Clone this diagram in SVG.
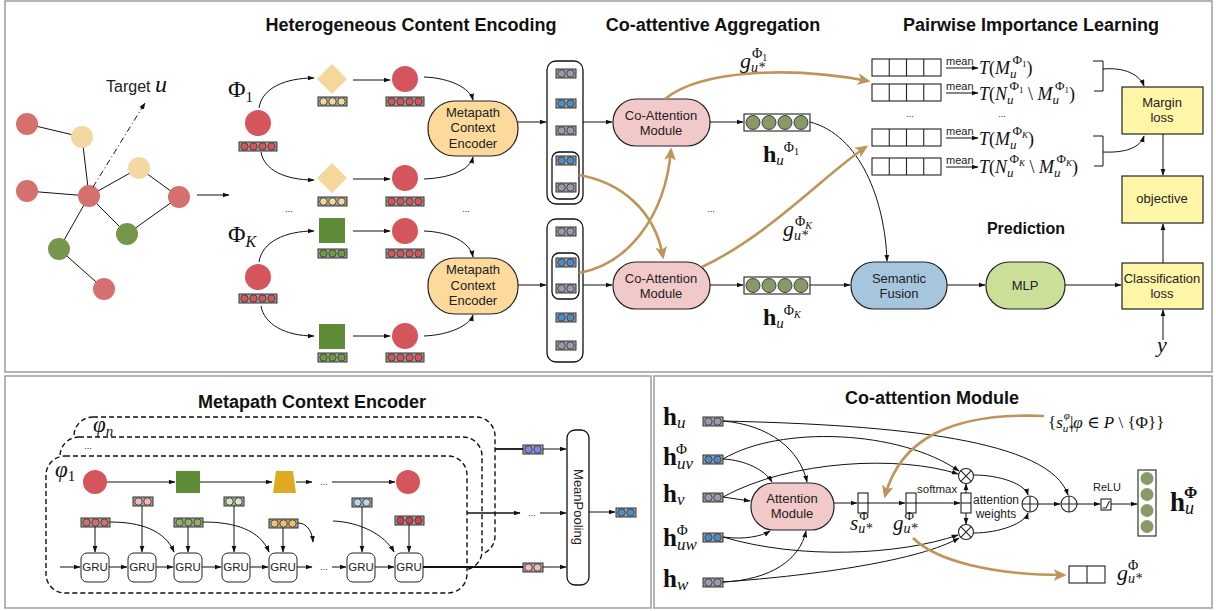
<svg xmlns="http://www.w3.org/2000/svg" width="1216" height="611" viewBox="0 0 1216 611">
<defs>
<style>
.ttl{font-family:"Liberation Sans",Arial,sans-serif;font-weight:bold;font-size:18px;fill:#111;text-anchor:middle}
.lbl{font-family:"Liberation Sans",Arial,sans-serif;font-size:13px;fill:#222;text-anchor:middle}
.sm{font-family:"Liberation Sans",Arial,sans-serif;fill:#222}
.m{font-family:"Liberation Serif","DejaVu Serif",serif;fill:#111}
.i{font-style:italic}
.b{font-weight:bold}
.ln{fill:none;stroke:#111;stroke-width:1}
.ar{fill:none;stroke:#111;stroke-width:1;marker-end:url(#ah)}
.br{fill:none;stroke:#BF9458;stroke-width:2.6;marker-end:url(#bh)}
.frame{fill:none;stroke:#a3a3a3;stroke-width:1.6}
.pill{stroke:#222;stroke-width:1.2}
.ybox{fill:#FFF6A8;stroke:#222;stroke-width:1.2}
.dash{fill:#fff;stroke:#111;stroke-width:1.4;stroke-dasharray:5 3}
.gru{fill:#fff;stroke:#222;stroke-width:1}
.dots{font-family:"Liberation Sans",Arial,sans-serif;font-size:9px;text-anchor:middle;fill:#222}
.cell{fill:#fff;stroke:#222;stroke-width:1.1}
</style>
<marker id="ah" viewBox="0 0 10 10" refX="9" refY="5" markerWidth="7" markerHeight="7" markerUnits="userSpaceOnUse" orient="auto"><path d="M0,1.5 L10,5 L0,8.5z" fill="#111"/></marker>
<marker id="bh" viewBox="0 0 10 10" refX="8" refY="5" markerWidth="13" markerHeight="13" markerUnits="userSpaceOnUse" orient="auto"><path d="M0,0.5 L10,5 L0,9.5 L2.5,5z" fill="#BF9458"/></marker>
<!-- embedding vectors: circles take their fill from the <use> -->
<g id="v4"><rect width="38" height="9" fill="#a0a0a0" stroke="#333" stroke-width="1"/><circle cx="5.5" cy="4.5" r="3.7" stroke="#333" stroke-width=".8"/><circle cx="14.5" cy="4.5" r="3.7" stroke="#333" stroke-width=".8"/><circle cx="23.5" cy="4.5" r="3.7" stroke="#333" stroke-width=".8"/><circle cx="32.5" cy="4.5" r="3.7" stroke="#333" stroke-width=".8"/></g>
<g id="v3"><rect width="29" height="9" fill="#a0a0a0" stroke="#333" stroke-width="1"/><circle cx="5.5" cy="4.5" r="3.7" stroke="#333" stroke-width=".8"/><circle cx="14.5" cy="4.5" r="3.7" stroke="#333" stroke-width=".8"/><circle cx="23.5" cy="4.5" r="3.7" stroke="#333" stroke-width=".8"/></g>
<g id="v2"><rect width="20" height="9" fill="#a0a0a0" stroke="#333" stroke-width="1"/><circle cx="5.5" cy="4.5" r="3.7" stroke="#333" stroke-width=".8"/><circle cx="14.5" cy="4.5" r="3.7" stroke="#333" stroke-width=".8"/></g>
<g id="olive"><rect width="66" height="17" fill="#fff" stroke="#222" stroke-width="1.1"/><circle cx="9" cy="8.5" r="7" fill="#8A9968" stroke="#333" stroke-width=".9"/><circle cx="25" cy="8.5" r="7" fill="#8A9968" stroke="#333" stroke-width=".9"/><circle cx="41" cy="8.5" r="7" fill="#8A9968" stroke="#333" stroke-width=".9"/><circle cx="57" cy="8.5" r="7" fill="#8A9968" stroke="#333" stroke-width=".9"/></g>
<g id="tbl4"><rect class="cell" width="69" height="17"/><path d="M17.25,0V17M34.5,0V17M51.75,0V17" stroke="#222" stroke-width="1.1"/></g>
</defs>

<rect width="1216" height="611" fill="#fff"/>
<!-- panel frames -->
<rect class="frame" x="5" y="1" width="1207" height="371"/>
<rect class="frame" x="5" y="376" width="646" height="232"/>
<rect class="frame" x="654" y="376" width="558" height="232"/>

<!-- section titles -->
<text class="ttl" x="411" y="31">Heterogeneous Content Encoding</text>
<text class="ttl" x="713" y="31">Co-attentive Aggregation</text>
<text class="ttl" x="1031" y="31">Pairwise Importance Learning</text>
<text class="ttl" x="1026" y="234" style="font-size:16px">Prediction</text>
<text class="ttl" x="312" y="408">Metapath Context Encoder</text>
<text class="ttl" x="932" y="404">Co-attention Module</text>

<!-- input heterogeneous graph -->
<g id="graph">
  <path class="ln" d="M27,124L82,137M82,137L89,196M27,191L89,196M89,196L139,168M139,168L179,197M179,197L127,234M127,234L89,196M89,196L59,249M59,249L104,289"/>
  <circle cx="27" cy="124" r="11" fill="#D4706E"/>
  <circle cx="82" cy="137" r="11" fill="#F4D8A4"/>
  <circle cx="27" cy="191" r="11" fill="#D4706E"/>
  <circle cx="89" cy="196" r="11" fill="#D4706E"/>
  <circle cx="139" cy="168" r="11" fill="#F4D8A4"/>
  <circle cx="179" cy="197" r="11" fill="#D4706E"/>
  <circle cx="127" cy="234" r="11" fill="#76964B"/>
  <circle cx="59" cy="249" r="11" fill="#76964B"/>
  <circle cx="104" cy="289" r="11" fill="#D4706E"/>
  <text x="106" y="92" class="sm" font-size="16">Target <tspan class="m i" font-size="24">u</tspan></text>
</g>

<!-- metapath Phi_1 instances -->
<g id="phi1">
  <text class="m" x="228" y="97" font-size="24">Φ<tspan font-size="15" dy="5">1</tspan></text>
  <circle cx="258" cy="123" r="13" fill="#D4555C"/>
  <use href="#v4" x="239" y="142" fill="#D4555C"/>
  <polygon points="332,64 347,79 332,94 317,79" fill="#F5D79A"/>
  <use href="#v3" x="318" y="97" fill="#F5D79A"/>
  <circle cx="405" cy="79" r="13" fill="#D4555C"/>
  <use href="#v4" x="386" y="97" fill="#D4555C"/>
  <polygon points="332,163 347,178 332,193 317,178" fill="#F5D79A"/>
  <use href="#v3" x="318" y="197" fill="#F5D79A"/>
  <circle cx="405" cy="178" r="13" fill="#D4555C"/>
  <use href="#v4" x="386" y="197" fill="#D4555C"/>
  <text class="dots" x="289" y="212">...</text>
  <text class="dots" x="466" y="212">...</text>
</g>
<g id="enc1">
  <rect class="pill" x="428" y="101" width="90" height="55" rx="27" fill="#FDD99B"/>
  <text class="lbl" x="473" y="117">Metapath</text>
  <text class="lbl" x="473" y="132">Context</text>
  <text class="lbl" x="473" y="148">Encoder</text>
</g>

<!-- metapath Phi_K instances -->
<g id="phiK">
  <text class="m" x="228" y="242" font-size="24">Φ<tspan class="i" font-size="16" dy="5">K</tspan></text>
  <circle cx="258" cy="277" r="13" fill="#D4555C"/>
  <use href="#v4" x="239" y="294" fill="#D4555C"/>
  <rect x="319" y="218" width="26" height="25" fill="#5E8B36"/>
  <use href="#v3" x="318" y="249" fill="#6E9A40"/>
  <circle cx="405" cy="231" r="13" fill="#D4555C"/>
  <use href="#v4" x="386" y="249" fill="#D4555C"/>
  <rect x="319" y="324" width="26" height="25" fill="#5E8B36"/>
  <use href="#v3" x="318" y="353" fill="#6E9A40"/>
  <circle cx="405" cy="336" r="13" fill="#D4555C"/>
  <use href="#v4" x="386" y="353" fill="#D4555C"/>
</g>
<g id="enc2">
  <rect class="pill" x="428" y="258" width="90" height="56" rx="27" fill="#FDD99B"/>
  <text class="lbl" x="473" y="274">Metapath</text>
  <text class="lbl" x="473" y="290">Context</text>
  <text class="lbl" x="473" y="305">Encoder</text>
</g>

<!-- instance embedding columns -->
<g id="col1">
  <rect x="547" y="61" width="36" height="143" rx="9" fill="#fff" stroke="#111" stroke-width="1.3"/>
  <use href="#v2" x="556" y="69" fill="#9C9AB2"/>
  <use href="#v2" x="556" y="99" fill="#4C8CC8"/>
  <use href="#v2" x="556" y="126" fill="#9C9AB2"/>
  <rect x="552" y="152" width="27" height="47" rx="7" fill="#fff" stroke="#111" stroke-width="1.3"/>
  <use href="#v2" x="556" y="156" fill="#4C8CC8"/>
  <use href="#v2" x="556" y="183" fill="#9C9AB2"/>
</g>
<g id="col2">
  <rect x="547" y="219" width="36" height="143" rx="9" fill="#fff" stroke="#111" stroke-width="1.3"/>
  <use href="#v2" x="556" y="227" fill="#9C9AB2"/>
  <rect x="552" y="253" width="27" height="46" rx="7" fill="#fff" stroke="#111" stroke-width="1.3"/>
  <use href="#v2" x="556" y="258" fill="#4C8CC8"/>
  <use href="#v2" x="556" y="284" fill="#9C9AB2"/>
  <use href="#v2" x="556" y="313" fill="#4C8CC8"/>
  <use href="#v2" x="556" y="341" fill="#9C9AB2"/>
</g>

<g id="coatt1">
  <rect class="pill" x="613" y="99" width="97" height="47" rx="23" fill="#F2C9C9"/>
  <text class="lbl" x="661" y="120">Co-Attention</text>
  <text class="lbl" x="661" y="135">Module</text>
</g>
<g id="coatt2">
  <rect class="pill" x="613" y="262" width="97" height="47" rx="23" fill="#F2C9C9"/>
  <text class="lbl" x="661" y="283">Co-Attention</text>
  <text class="lbl" x="661" y="298">Module</text>
</g>
<text class="dots" x="711" y="212">...</text>

<g id="hu1">
  <use href="#olive" x="744" y="114"/>
  <text class="m" x="763" y="162"><tspan class="b" font-size="24">h</tspan><tspan class="i" font-size="15" dy="3">u</tspan><tspan font-size="14" dy="-13">Φ</tspan><tspan font-size="10" dy="3">1</tspan></text>
</g>
<g id="huK">
  <use href="#olive" x="744" y="277"/>
  <text class="m" x="763" y="325"><tspan class="b" font-size="24">h</tspan><tspan class="i" font-size="15" dy="3">u</tspan><tspan font-size="14" dy="-13">Φ</tspan><tspan class="i" font-size="10" dy="3">K</tspan></text>
</g>
<text class="m" x="740" y="68"><tspan class="i" font-size="22">g</tspan><tspan class="i" font-size="14" dy="4">u*</tspan><tspan font-size="14" dx="-13" dy="-14">Φ</tspan><tspan font-size="10" dy="3">1</tspan></text>
<text class="m" x="783" y="236"><tspan class="i" font-size="22">g</tspan><tspan class="i" font-size="14" dy="4">u*</tspan><tspan font-size="14" dx="-13" dy="-14">Φ</tspan><tspan class="i" font-size="10" dy="3">K</tspan></text>

<!-- pairwise importance tables -->
<g id="tables">
  <use href="#tbl4" x="872" y="59"/>
  <use href="#tbl4" x="872" y="84"/>
  <use href="#tbl4" x="872" y="129"/>
  <use href="#tbl4" x="872" y="158"/>
  <text class="dots" x="910" y="117">...</text>
  <text class="dots" x="1002" y="117">...</text>
  <g class="sm" font-size="11">
    <text x="946" y="65">mean</text>
    <text x="946" y="90">mean</text>
    <text x="946" y="135">mean</text>
    <text x="946" y="164">mean</text>
  </g>
  <text class="m" x="979" y="74" font-size="18"><tspan class="i">T</tspan>(<tspan class="i">M</tspan><tspan class="i" font-size="13" dy="4">u</tspan><tspan font-size="13" dx="-4" dy="-14">Φ</tspan><tspan font-size="9" dy="3">1</tspan><tspan dy="7">)</tspan></text>
  <text class="m" x="979" y="100" font-size="18"><tspan class="i">T</tspan>(<tspan class="i">N</tspan><tspan class="i" font-size="13" dy="4">u</tspan><tspan font-size="13" dx="-4" dy="-14">Φ</tspan><tspan font-size="9" dy="3">1</tspan><tspan dy="7"> \ </tspan><tspan class="i">M</tspan><tspan class="i" font-size="13" dy="4">u</tspan><tspan font-size="13" dx="-4" dy="-14">Φ</tspan><tspan font-size="9" dy="3">1</tspan><tspan dy="7">)</tspan></text>
  <text class="m" x="979" y="145" font-size="18"><tspan class="i">T</tspan>(<tspan class="i">M</tspan><tspan class="i" font-size="13" dy="4">u</tspan><tspan font-size="13" dx="-4" dy="-14">Φ</tspan><tspan class="i" font-size="9" dy="3">K</tspan><tspan dy="7">)</tspan></text>
  <text class="m" x="979" y="173" font-size="18"><tspan class="i">T</tspan>(<tspan class="i">N</tspan><tspan class="i" font-size="13" dy="4">u</tspan><tspan font-size="13" dx="-4" dy="-14">Φ</tspan><tspan class="i" font-size="9" dy="3">K</tspan><tspan dy="7"> \ </tspan><tspan class="i">M</tspan><tspan class="i" font-size="13" dy="4">u</tspan><tspan font-size="13" dx="-4" dy="-14">Φ</tspan><tspan class="i" font-size="9" dy="3">K</tspan><tspan dy="7">)</tspan></text>
</g>

<g id="margin">
  <rect class="ybox" x="1122" y="87" width="81" height="47"/>
  <text class="lbl" x="1162" y="107">Margin</text>
  <text class="lbl" x="1162" y="122">loss</text>
</g>
<g id="objective">
  <rect class="ybox" x="1122" y="176" width="81" height="47"/>
  <text class="lbl" x="1162" y="203">objective</text>
</g>
<g id="clsloss">
  <rect class="ybox" x="1122" y="263" width="81" height="46"/>
  <text class="lbl" x="1162" y="283">Classification</text>
  <text class="lbl" x="1162" y="298">loss</text>
</g>
<g id="fusion">
  <rect class="pill" x="851" y="262" width="96" height="47" rx="23" fill="#A6C6DD"/>
  <text class="lbl" x="899" y="283">Semantic</text>
  <text class="lbl" x="899" y="298">Fusion</text>
</g>
<g id="mlp">
  <rect class="pill" x="986" y="262" width="79" height="47" rx="23" fill="#CBDF98"/>
  <text class="lbl" x="1025" y="290">MLP</text>
</g>
<text class="m i" x="1157" y="352" font-size="22">y</text>

<!-- connectors of the top panel -->
<g id="top-edges">
  <path d="M93,187L145,103" fill="none" stroke="#111" stroke-width="1" stroke-dasharray="6 3 1 3" marker-end="url(#ah)"/>
  <path class="ar" d="M197,195L229,195"/>
  <path class="ar" d="M259,108C262,88 285,78 314,78"/>
  <path class="ar" d="M261,152C264,170 285,180 314,180"/>
  <path class="ar" d="M353,80L390,80"/>
  <path class="ar" d="M353,179L390,179"/>
  <path class="ar" d="M424,77C450,78 470,88 473,100"/>
  <path class="ar" d="M424,179C450,178 470,170 473,157"/>
  <path class="ar" d="M259,262C262,242 285,231 314,231"/>
  <path class="ar" d="M261,306C264,324 285,336 314,336"/>
  <path class="ar" d="M353,231L390,231"/>
  <path class="ar" d="M353,336L390,336"/>
  <path class="ar" d="M424,231C450,232 470,242 473,257"/>
  <path class="ar" d="M424,336C450,335 470,325 473,315"/>
  <path class="ar" d="M518,122L546,122"/>
  <path class="ar" d="M518,285L546,285"/>
  <path class="ar" d="M583,122L612,122"/>
  <path class="ar" d="M583,285L612,285"/>
  <path class="ar" d="M710,122L743,122"/>
  <path class="ar" d="M710,285L743,285"/>
  <path class="ar" d="M810,122C860,135 885,200 887,261"/>
  <path class="ar" d="M810,285L850,285"/>
  <path class="ar" d="M947,285L985,285"/>
  <path class="ar" d="M1065,285L1121,285"/>
  <path class="ar" d="M946,68L978,68"/>
  <path class="ar" d="M946,93L978,93"/>
  <path class="ar" d="M946,138L978,138"/>
  <path class="ar" d="M946,167L978,167"/>
  <path class="ln" d="M1093,61H1103V91H1094M1093,136H1103V166H1094" stroke-width="1.2"/>
  <path class="ar" d="M1103,69C1125,67 1140,75 1144,86"/>
  <path class="ar" d="M1103,152C1125,153 1140,148 1144,136"/>
  <path class="ar" d="M1163,134L1163,175"/>
  <path class="ar" d="M1163,263L1163,224"/>
  <path class="ar" d="M1163,340L1163,310"/>
  <path class="br" d="M579,175C620,182 655,210 663,257"/>
  <path class="br" d="M579,273C625,265 665,220 671,150"/>
  <path class="br" d="M665,99C700,70 790,66 868,81"/>
  <path class="br" d="M702,267C770,235 830,170 866,147"/>
</g>

<!-- metapath context encoder (bottom left) -->
<g id="stack">
  <rect class="dash" x="74" y="417" width="421" height="138" rx="19"/>
  <rect class="dash" x="60" y="437" width="422" height="133" rx="19"/>
  <rect class="dash" x="46" y="456" width="421" height="137" rx="19"/>
  <text class="m i" x="93" y="432" font-size="23">φ<tspan font-size="15" dy="4">n</tspan></text>
  <text class="dots" x="88" y="449">...</text>
  <text class="m i" x="55" y="477" font-size="23">φ<tspan font-size="15" font-style="normal" dy="4">1</tspan></text>
</g>
<g id="seq">
  <circle cx="95" cy="482" r="12" fill="#D4555C"/>
  <rect x="176" y="471" width="24" height="22" fill="#5E8B36"/>
  <polygon points="276,471 293,471 296,493 273,493" fill="#DDAA22"/>
  <circle cx="408" cy="482" r="12" fill="#D4555C"/>
  <text class="dots" x="324" y="485">...</text>
  <use href="#v3" x="81" y="518" fill="#D86C6C"/>
  <use href="#v2" x="133" y="497" fill="#F4B6B6"/>
  <use href="#v3" x="174" y="518" fill="#8DB35F"/>
  <use href="#v2" x="224" y="497" fill="#D6E7BF"/>
  <use href="#v3" x="269" y="519" fill="#F2C060"/>
  <use href="#v2" x="352" y="498" fill="#BBD9EA"/>
  <use href="#v3" x="395" y="516" fill="#D0424A"/>
</g>
<g id="grus">
  <rect class="gru" x="81" y="553" width="28" height="29" rx="6"/>
  <rect class="gru" x="128" y="553" width="28" height="29" rx="6"/>
  <rect class="gru" x="174" y="553" width="28" height="29" rx="6"/>
  <rect class="gru" x="222" y="553" width="28" height="29" rx="6"/>
  <rect class="gru" x="269" y="553" width="28" height="29" rx="6"/>
  <rect class="gru" x="347" y="553" width="28" height="29" rx="6"/>
  <rect class="gru" x="395" y="553" width="28" height="29" rx="6"/>
  <g class="sm" font-size="11.5" text-anchor="middle">
    <text x="95" y="571">GRU</text><text x="142" y="571">GRU</text><text x="188" y="571">GRU</text><text x="236" y="571">GRU</text><text x="283" y="571">GRU</text><text x="361" y="571">GRU</text><text x="409" y="571">GRU</text>
  </g>
  <text class="dots" x="324" y="570">...</text>
</g>
<g id="meanpool">
  <rect x="567" y="430" width="22" height="155" rx="8" fill="#fff" stroke="#111" stroke-width="1.3"/>
  <text class="sm" font-size="13" text-anchor="middle" transform="translate(578,507) rotate(90)" dy="4.5">MeanPooling</text>
</g>
<use href="#v2" x="523" y="445" fill="#8484F2"/>
<use href="#v2" x="523" y="563" fill="#F6B8B8"/>
<use href="#v2" x="616" y="508" fill="#4A90C8"/>
<text class="dots" x="532" y="516">...</text>
<g id="enc-edges">
  <path class="ar" d="M107,482L175,482"/>
  <path class="ar" d="M200,482L272,482"/>
  <path class="ar" d="M296,482L312,482"/>
  <path class="ar" d="M332,482L395,482"/>
  <path class="ar" d="M60,567L80,567"/>
  <path class="ar" d="M109,567L127,567"/>
  <path class="ar" d="M156,567L173,567"/>
  <path class="ar" d="M202,567L221,567"/>
  <path class="ar" d="M250,567L268,567"/>
  <path class="ar" d="M297,567L312,567"/>
  <path class="ar" d="M332,567L346,567"/>
  <path class="ar" d="M375,567L394,567"/>
  <path class="ar" d="M95,527L95,552"/>
  <path class="ar" d="M142,506L142,552"/>
  <path class="ar" d="M188,527L188,552"/>
  <path class="ar" d="M234,506L234,552"/>
  <path class="ar" d="M283,528L283,552"/>
  <path class="ar" d="M362,507L362,552"/>
  <path class="ar" d="M409,525L409,552"/>
  <path class="ar" d="M110,522C140,522 165,530 174,552"/>
  <path class="ar" d="M203,522C235,522 260,530 269,552"/>
  <path class="ar" d="M298,523C306,523 312,530 313,542"/>
  <path class="ar" d="M333,521C360,522 385,535 394,552"/>
  <path d="M423,567L523,567" fill="none" stroke="#111" stroke-width="1.8"/>
  <path class="ar" d="M543,567L566,567"/>
  <path d="M495,449L523,449" fill="none" stroke="#111" stroke-width="1.8"/>
  <path class="ar" d="M543,449L566,449"/>
  <path d="M467,513L520,513" fill="none" stroke="#111" stroke-width="1.3" marker-end="url(#ah)"/>
  <path class="ar" d="M540,513L566,513"/>
  <path class="ar" d="M589,512L615,512"/>
</g>

<!-- co-attention module (bottom right) -->
<g id="inputs">
  <text class="m" x="663" y="425"><tspan class="b" font-size="25">h</tspan><tspan class="i" font-size="17" dy="3">u</tspan></text>
  <text class="m" x="663" y="465"><tspan class="b" font-size="25">h</tspan><tspan class="i" font-size="17" dy="4">uv</tspan><tspan font-size="15" dx="-17" dy="-15">Φ</tspan></text>
  <text class="m" x="663" y="502"><tspan class="b" font-size="25">h</tspan><tspan class="i" font-size="17" dy="3">v</tspan></text>
  <text class="m" x="663" y="546"><tspan class="b" font-size="25">h</tspan><tspan class="i" font-size="17" dy="4">uw</tspan><tspan font-size="15" dx="-20" dy="-15">Φ</tspan></text>
  <text class="m" x="663" y="587"><tspan class="b" font-size="25">h</tspan><tspan class="i" font-size="17" dy="3">w</tspan></text>
  <use href="#v2" x="703" y="417" fill="#9C9AB2"/>
  <use href="#v2" x="703" y="455" fill="#4C8CC8"/>
  <use href="#v2" x="703" y="493" fill="#9C9AB2"/>
  <use href="#v2" x="703" y="533" fill="#4C8CC8"/>
  <use href="#v2" x="703" y="578" fill="#9C9AB2"/>
</g>
<g id="attn">
  <rect class="pill" x="751" y="483" width="83" height="47" rx="23" fill="#F2C9C9"/>
  <text class="lbl" x="792" y="503">Attention</text>
  <text class="lbl" x="792" y="518">Module</text>
</g>
<g id="scores">
  <rect x="858" y="493" width="10" height="20" fill="#fff" stroke="#222" stroke-width="1.1"/>
  <rect x="906" y="493" width="10" height="20" fill="#fff" stroke="#222" stroke-width="1.1"/>
  <rect x="961" y="493" width="10" height="20" fill="#fff" stroke="#222" stroke-width="1.1"/>
  <text class="m" x="850" y="530"><tspan class="i" font-size="21">s</tspan><tspan class="i" font-size="14" dy="3">u*</tspan><tspan font-size="13" dx="-13" dy="-13">Φ</tspan></text>
  <text class="m" x="893" y="530"><tspan class="i" font-size="21">g</tspan><tspan class="i" font-size="14" dy="3">u*</tspan><tspan font-size="13" dx="-13" dy="-13">Φ</tspan></text>
  <text class="sm" x="917" y="493" font-size="11.5">softmax</text>
  <text class="sm" x="996" y="504" font-size="12" text-anchor="middle">attention</text>
  <text class="sm" x="996" y="518" font-size="12" text-anchor="middle">weights</text>
</g>
<g id="ops" fill="#fff" stroke="#222" stroke-width="1.1">
  <circle cx="966" cy="476" r="7.5"/><path d="M960.7,470.7L971.3,481.3M971.3,470.7L960.7,481.3"/>
  <circle cx="966" cy="532" r="7.5"/><path d="M960.7,526.7L971.3,537.3M971.3,526.7L960.7,537.3"/>
  <circle cx="1030" cy="504" r="8"/><path d="M1022,504H1038M1030,496V512"/>
  <circle cx="1069" cy="504" r="8"/><path d="M1061,504H1077M1069,496V512"/>
  <rect x="1101" y="499" width="10" height="11"/><path d="M1102.5,508H1106L1109.5,501" fill="none"/>
</g>
<text class="sm" x="1107" y="491" font-size="11" text-anchor="middle">ReLU</text>
<g id="hout">
  <rect x="1138" y="470" width="18" height="66" fill="#fff" stroke="#222" stroke-width="1.1"/>
  <circle cx="1147" cy="478.5" r="6.5" fill="#8A9968"/>
  <circle cx="1147" cy="494.5" r="6.5" fill="#8A9968"/>
  <circle cx="1147" cy="510.5" r="6.5" fill="#8A9968"/>
  <circle cx="1147" cy="526.5" r="6.5" fill="#8A9968"/>
  <text class="m" x="1170" y="511"><tspan class="b" font-size="27">h</tspan><tspan class="i" font-size="18" dy="3">u</tspan><tspan class="b" font-size="16" dx="-10" dy="-16">Φ</tspan></text>
</g>
<text class="m" x="1048" y="428" font-size="17">{<tspan class="i">s</tspan><tspan class="i" font-size="11" dy="4">u*</tspan><tspan class="i" font-size="11" dx="-10" dy="-13">φ</tspan><tspan dy="9">|</tspan><tspan class="i">φ</tspan> ∈ <tspan class="i">P</tspan> \ {Φ}}</text>
<g id="gout">
  <rect class="cell" x="1069" y="566" width="36" height="17"/>
  <path d="M1087,566V583" stroke="#222" stroke-width="1.1"/>
  <text class="m" x="1117" y="580"><tspan class="i" font-size="22">g</tspan><tspan class="i" font-size="14" dy="3">u*</tspan><tspan font-size="14" dx="-14" dy="-13">Φ</tspan></text>
</g>
<g id="coatt-edges">
  <path class="ar" d="M723,421C770,425 800,450 807,482"/>
  <path class="ar" d="M723,459C745,460 765,470 772,482"/>
  <path class="ar" d="M723,497L750,501"/>
  <path class="ar" d="M723,537C745,540 762,536 770,531"/>
  <path class="ar" d="M723,582C770,580 800,560 806,531"/>
  <path class="ar" d="M723,421C900,425 1050,440 1068,495"/>
  <path class="ar" d="M723,459C780,425 900,430 959,471"/>
  <path class="ar" d="M723,497C790,460 900,455 958,474"/>
  <path class="ar" d="M723,537C800,560 900,555 958,535"/>
  <path class="ar" d="M723,582C820,575 920,560 959,538"/>
  <path class="ar" d="M834,503L857,503"/>
  <path class="ar" d="M858,503L905,503"/>
  <path class="ar" d="M906,503L960,503"/>
  <path class="ln" d="M961,503H971"/>
  <path class="ar" d="M966,493L966,484"/>
  <path class="ar" d="M966,513L966,524"/>
  <path class="ar" d="M973.5,475C1000,475 1025,484 1028,495"/>
  <path class="ar" d="M973.5,533C1000,533 1025,523 1028,513"/>
  <path class="ar" d="M1038,504L1060,504"/>
  <path class="ar" d="M1077,504L1100,504"/>
  <path class="ar" d="M1111,504L1137,504"/>
  <path class="br" d="M1044,416C950,412 900,440 885,496"/>
  <path class="br" d="M913,538C935,560 990,575 1064,575"/>
</g>
</svg>
